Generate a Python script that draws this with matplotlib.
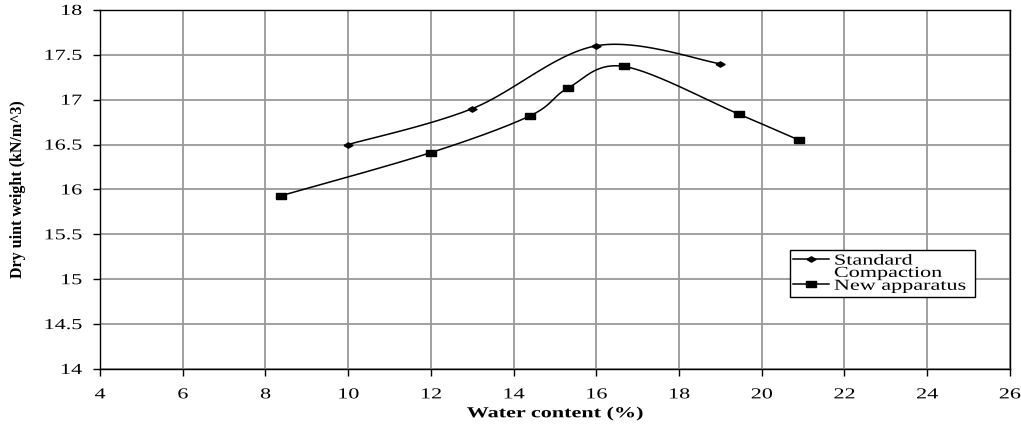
import numpy as np
import matplotlib
matplotlib.use("Agg")
import matplotlib.pyplot as plt
from matplotlib.patheffects import AbstractPathEffect
from matplotlib.transforms import Affine2D

std_water = [10, 13, 16, 19]
std_dry = [16.5, 16.9, 17.6, 17.4]

new_water = [8.38, 12, 14.4, 15.32, 16.67, 19.44, 20.9]
new_dry = [15.93, 16.41, 16.82, 17.13, 17.37, 16.84, 16.55]

x_ticks = list(range(4, 27, 2))
y_ticks = [14, 14.5, 15, 15.5, 16, 16.5, 17, 17.5, 18]

WIDE = 1.45  # the original figure is stretched sideways


class Stretch(AbstractPathEffect):
    """Widen text glyphs around the left / centre / right of the line."""

    def __init__(self, sx=WIDE, anchor="center"):
        super().__init__()
        self.sx = sx
        self.anchor = anchor

    def draw_path(self, renderer, gc, tpath, affine, rgbFace=None):
        v = tpath.vertices
        if len(v) == 0:
            return
        x0, x1 = v[:, 0].min(), v[:, 0].max()
        c = {"left": x0, "right": x1}.get(self.anchor, (x0 + x1) / 2)
        t = Affine2D().translate(-c, 0).scale(self.sx, 1).translate(c, 0) + affine
        renderer.draw_path(gc, tpath, t, rgbFace)


def smooth(xs, ys, n=40):
    # Excel-like smoothed line: cubic bezier through the points
    p = np.column_stack([xs, ys]).astype(float)
    pts = [p[0]]
    t = np.linspace(0, 1, n)[1:, None]
    for i in range(len(p) - 1):
        p0 = p[i - 1] if i > 0 else p[i]
        p3 = p[i + 2] if i + 2 < len(p) else p[i + 1]
        c1 = p[i] + (p[i + 1] - p0) / 6
        c2 = p[i + 1] - (p3 - p[i]) / 6
        seg = ((1 - t) ** 3 * p[i] + 3 * (1 - t) ** 2 * t * c1
               + 3 * (1 - t) * t ** 2 * c2 + t ** 3 * p[i + 1])
        pts.extend(seg)
    pts = np.array(pts)
    return pts[:, 0], pts[:, 1]


diamond = [(-1.7, 0), (0, 1), (1.7, 0), (0, -1), (-1.7, 0)]
square = [(-1.7, -1), (1.7, -1), (1.7, 1), (-1.7, 1), (-1.7, -1)]

plt.rcParams["font.family"] = ["Liberation Serif", "DejaVu Serif"]

fig = plt.figure(figsize=(10.21, 4.3), dpi=100)
ax = fig.add_axes([0.098, 0.142, 0.891, 0.835])

sx, sy = smooth(std_water, std_dry)
ax.plot(sx, sy, color="black", lw=1.1)
ax.plot(std_water, std_dry, ls="none", marker=diamond, ms=6.5, color="black")
nx, ny = smooth(new_water, new_dry)
ax.plot(nx, ny, color="black", lw=1.1)
ax.plot(new_water, new_dry, ls="none", marker=square, ms=7, color="black")

# legend handles
ax.plot([], [], color="black", lw=1.1, marker=diamond, ms=6.5, label="Standard")
ax.plot([], [], color="black", lw=1.1, marker=square, ms=7,
        label="New apparatus" + " " * 12)

ax.set_xlim(4, 26)
ax.set_ylim(14, 18)
ax.set_xticks(x_ticks)
ax.set_yticks(y_ticks)
ax.set_yticklabels([f"{v:g}" for v in y_ticks])
ax.tick_params(direction="out", length=5, width=1, labelsize=11, colors="black")
ax.tick_params(axis="x", pad=9)
ax.tick_params(axis="y", pad=8)
for lbl in ax.get_xticklabels():
    lbl.set_path_effects([Stretch(anchor="center")])
for lbl in ax.get_yticklabels():
    lbl.set_path_effects([Stretch(anchor="right")])

ax.grid(True, color="#999999", lw=1.3)
ax.set_axisbelow(True)
for s in ax.spines.values():
    s.set_linewidth(1)
    s.set_color("black")

xl = ax.set_xlabel("Water content (%)", fontsize=11, fontweight="bold", labelpad=4)
xl.set_path_effects([Stretch(anchor="center")])
ax.set_ylabel("Dry uint weight (kN/m^3)", fontsize=11.5, fontweight="bold", labelpad=21)

leg = ax.legend(loc="upper left", bbox_to_anchor=(0.758, 0.331), fontsize=11,
                frameon=True, fancybox=False, edgecolor="black", framealpha=1,
                handlelength=2.3, handletextpad=0.35, labelspacing=0.75,
                borderpad=0.25, borderaxespad=0)
leg.get_frame().set_linewidth(1)
for txt in leg.get_texts():
    txt.set_path_effects([Stretch(anchor="left")])

# second line of the first legend label, squeezed in like the original
comp = ax.annotate("Compaction", xy=(0, 0), xycoords=leg.get_texts()[0],
                   xytext=(0, 0.5), textcoords="offset points",
                   ha="left", va="top", fontsize=11, zorder=6,
                   annotation_clip=False)
comp.set_path_effects([Stretch(anchor="left")])

fig.savefig("out.png", dpi=100)
